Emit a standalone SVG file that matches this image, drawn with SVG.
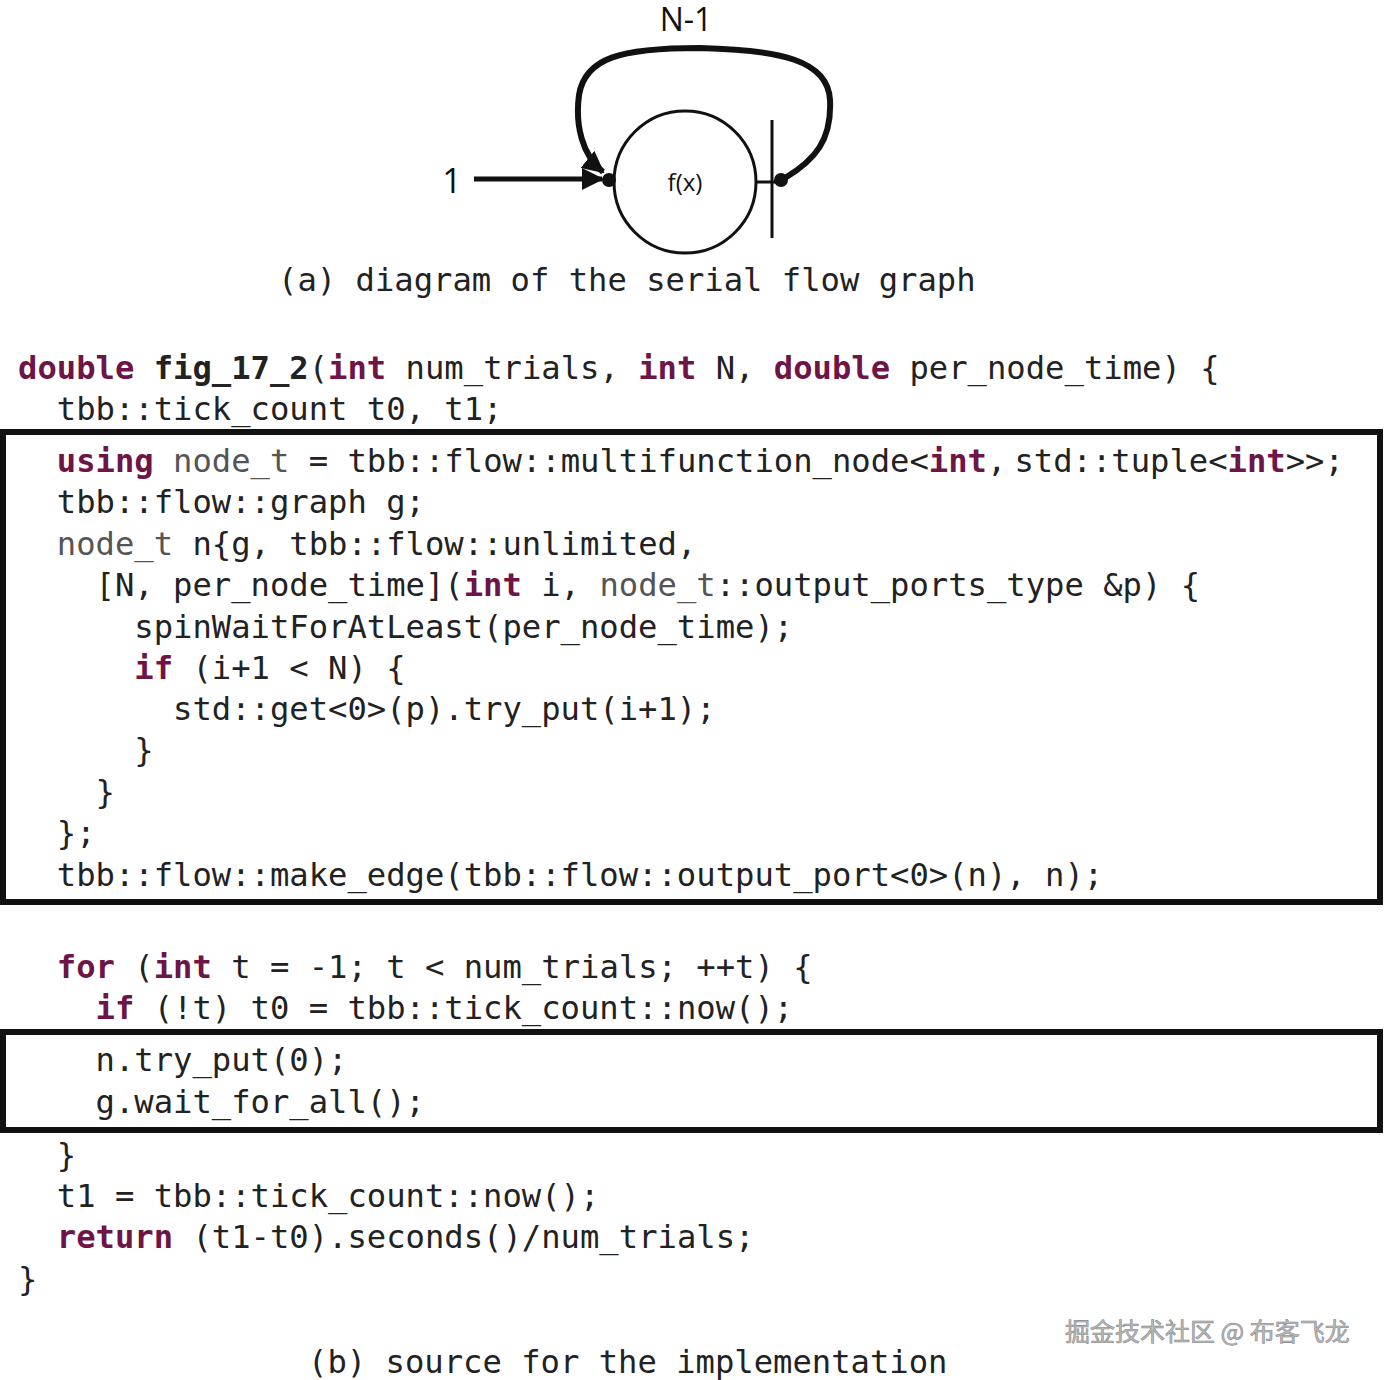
<svg xmlns="http://www.w3.org/2000/svg" width="1384" height="1380" viewBox="0 0 1384 1380">
<style>
.c{font-family:"DejaVu Sans Mono","Liberation Mono",monospace;font-size:32.2px;fill:#222;white-space:pre}
.k{fill:#6e1446;font-weight:bold}
.t{fill:#555}
.s{font-family:"Open Sans","Liberation Sans",sans-serif;fill:#111}
.box{fill:none;stroke:#111;stroke-width:6}
</style>
<defs>
<marker id="ah2" markerWidth="22" markerHeight="22" refX="20" refY="11" orient="auto" markerUnits="userSpaceOnUse" viewBox="0 0 22 22"><path d="M0,0 L22,11 L0,22 Z" fill="#111"/></marker>
</defs>
<rect width="1384" height="1380" fill="#fff"/>
<g id="node-f">
<circle cx="685" cy="182" r="71" fill="none" stroke="#111" stroke-width="3"/>
<text x="685" y="191" text-anchor="middle" class="s" font-size="24">f(x)</text>
<line x1="772" y1="120" x2="772" y2="238" stroke="#111" stroke-width="3"/>
<line x1="756" y1="182" x2="781" y2="182" stroke="#111" stroke-width="3"/>
<circle cx="609" cy="180" r="7" fill="#111"/>
<circle cx="781" cy="180" r="7" fill="#111"/>
</g>
<g id="labels">
<text x="452" y="193" text-anchor="middle" class="s" font-size="34">1</text>
<text x="686" y="31" text-anchor="middle" class="s" font-size="32">N-1</text>
</g>
<g id="connectors">
<line x1="474" y1="179" x2="602" y2="179" stroke="#111" stroke-width="5" marker-end="url(#ah2)"/>
<path d="M785,178 C815,160 832,140 830,100 C828,60 780,50 700,48 C620,48 585,58 579,95 C575,125 582,155 603,172" fill="none" stroke="#111" stroke-width="6" marker-end="url(#ah2)"/>
</g>
<g id="caption-a"><text x="278" y="291" class="c">(a) diagram of the serial flow graph</text></g>
<rect class="box" x="3" y="432" width="1377" height="470"/>
<rect class="box" x="3" y="1032" width="1377" height="98"/>
<g id="code">
<text x="18" y="379" class="c"><tspan class="k">double</tspan> <tspan font-weight="bold">fig_17_2</tspan>(<tspan class="k">int</tspan> num_trials, <tspan class="k">int</tspan> N, <tspan class="k">double</tspan> per_node_time) {</text>
<text x="18" y="420" class="c">  tbb::tick_count t0, t1;</text>
<text x="18" y="472" class="c">  <tspan class="k">using</tspan> <tspan class="t">node_t</tspan> = tbb::flow::multifunction_node&lt;<tspan class="k">int</tspan>,<tspan dx="8">std::tuple&lt;</tspan><tspan class="k">int</tspan>&gt;&gt;;</text>
<text x="18" y="513" class="c">  tbb::flow::graph g;</text>
<text x="18" y="555" class="c">  <tspan class="t">node_t</tspan> n{g, tbb::flow::unlimited,</text>
<text x="18" y="596" class="c">    [N, per_node_time](<tspan class="k">int</tspan> i, <tspan class="t">node_t</tspan>::output_ports_type &amp;p) {</text>
<text x="18" y="638" class="c">      spinWaitForAtLeast(per_node_time);</text>
<text x="18" y="679" class="c">      <tspan class="k">if</tspan> (i+1 &lt; N) {</text>
<text x="18" y="720" class="c">        std::get&lt;0&gt;(p).try_put(i+1);</text>
<text x="18" y="761" class="c">      }</text>
<text x="18" y="803" class="c">    }</text>
<text x="18" y="844" class="c">  };</text>
<text x="18" y="886" class="c">  tbb::flow::make_edge(tbb::flow::output_port&lt;0&gt;(n), n);</text>
<text x="18" y="978" class="c">  <tspan class="k">for</tspan> (<tspan class="k">int</tspan> t = -1; t &lt; num_trials; ++t) {</text>
<text x="18" y="1019" class="c">    <tspan class="k">if</tspan> (!t) t0 = tbb::tick_count::now();</text>
<text x="18" y="1071" class="c">    n.try_put(0);</text>
<text x="18" y="1113" class="c">    g.wait_for_all();</text>
<text x="18" y="1166" class="c">  }</text>
<text x="18" y="1207" class="c">  t1 = tbb::tick_count::now();</text>
<text x="18" y="1248" class="c">  <tspan class="k">return</tspan> (t1-t0).seconds()/num_trials;</text>
<text x="18" y="1290" class="c">}</text>
</g>
<g id="caption-b"><text x="308" y="1373" class="c">(b) source for the implementation</text></g>
<text x="1065" y="1341" font-family="'Noto Sans CJK SC',sans-serif" font-size="25" fill="#bbb" stroke="#888" stroke-width="0.6">掘金技术社区 @ 布客飞龙</text>
</svg>
